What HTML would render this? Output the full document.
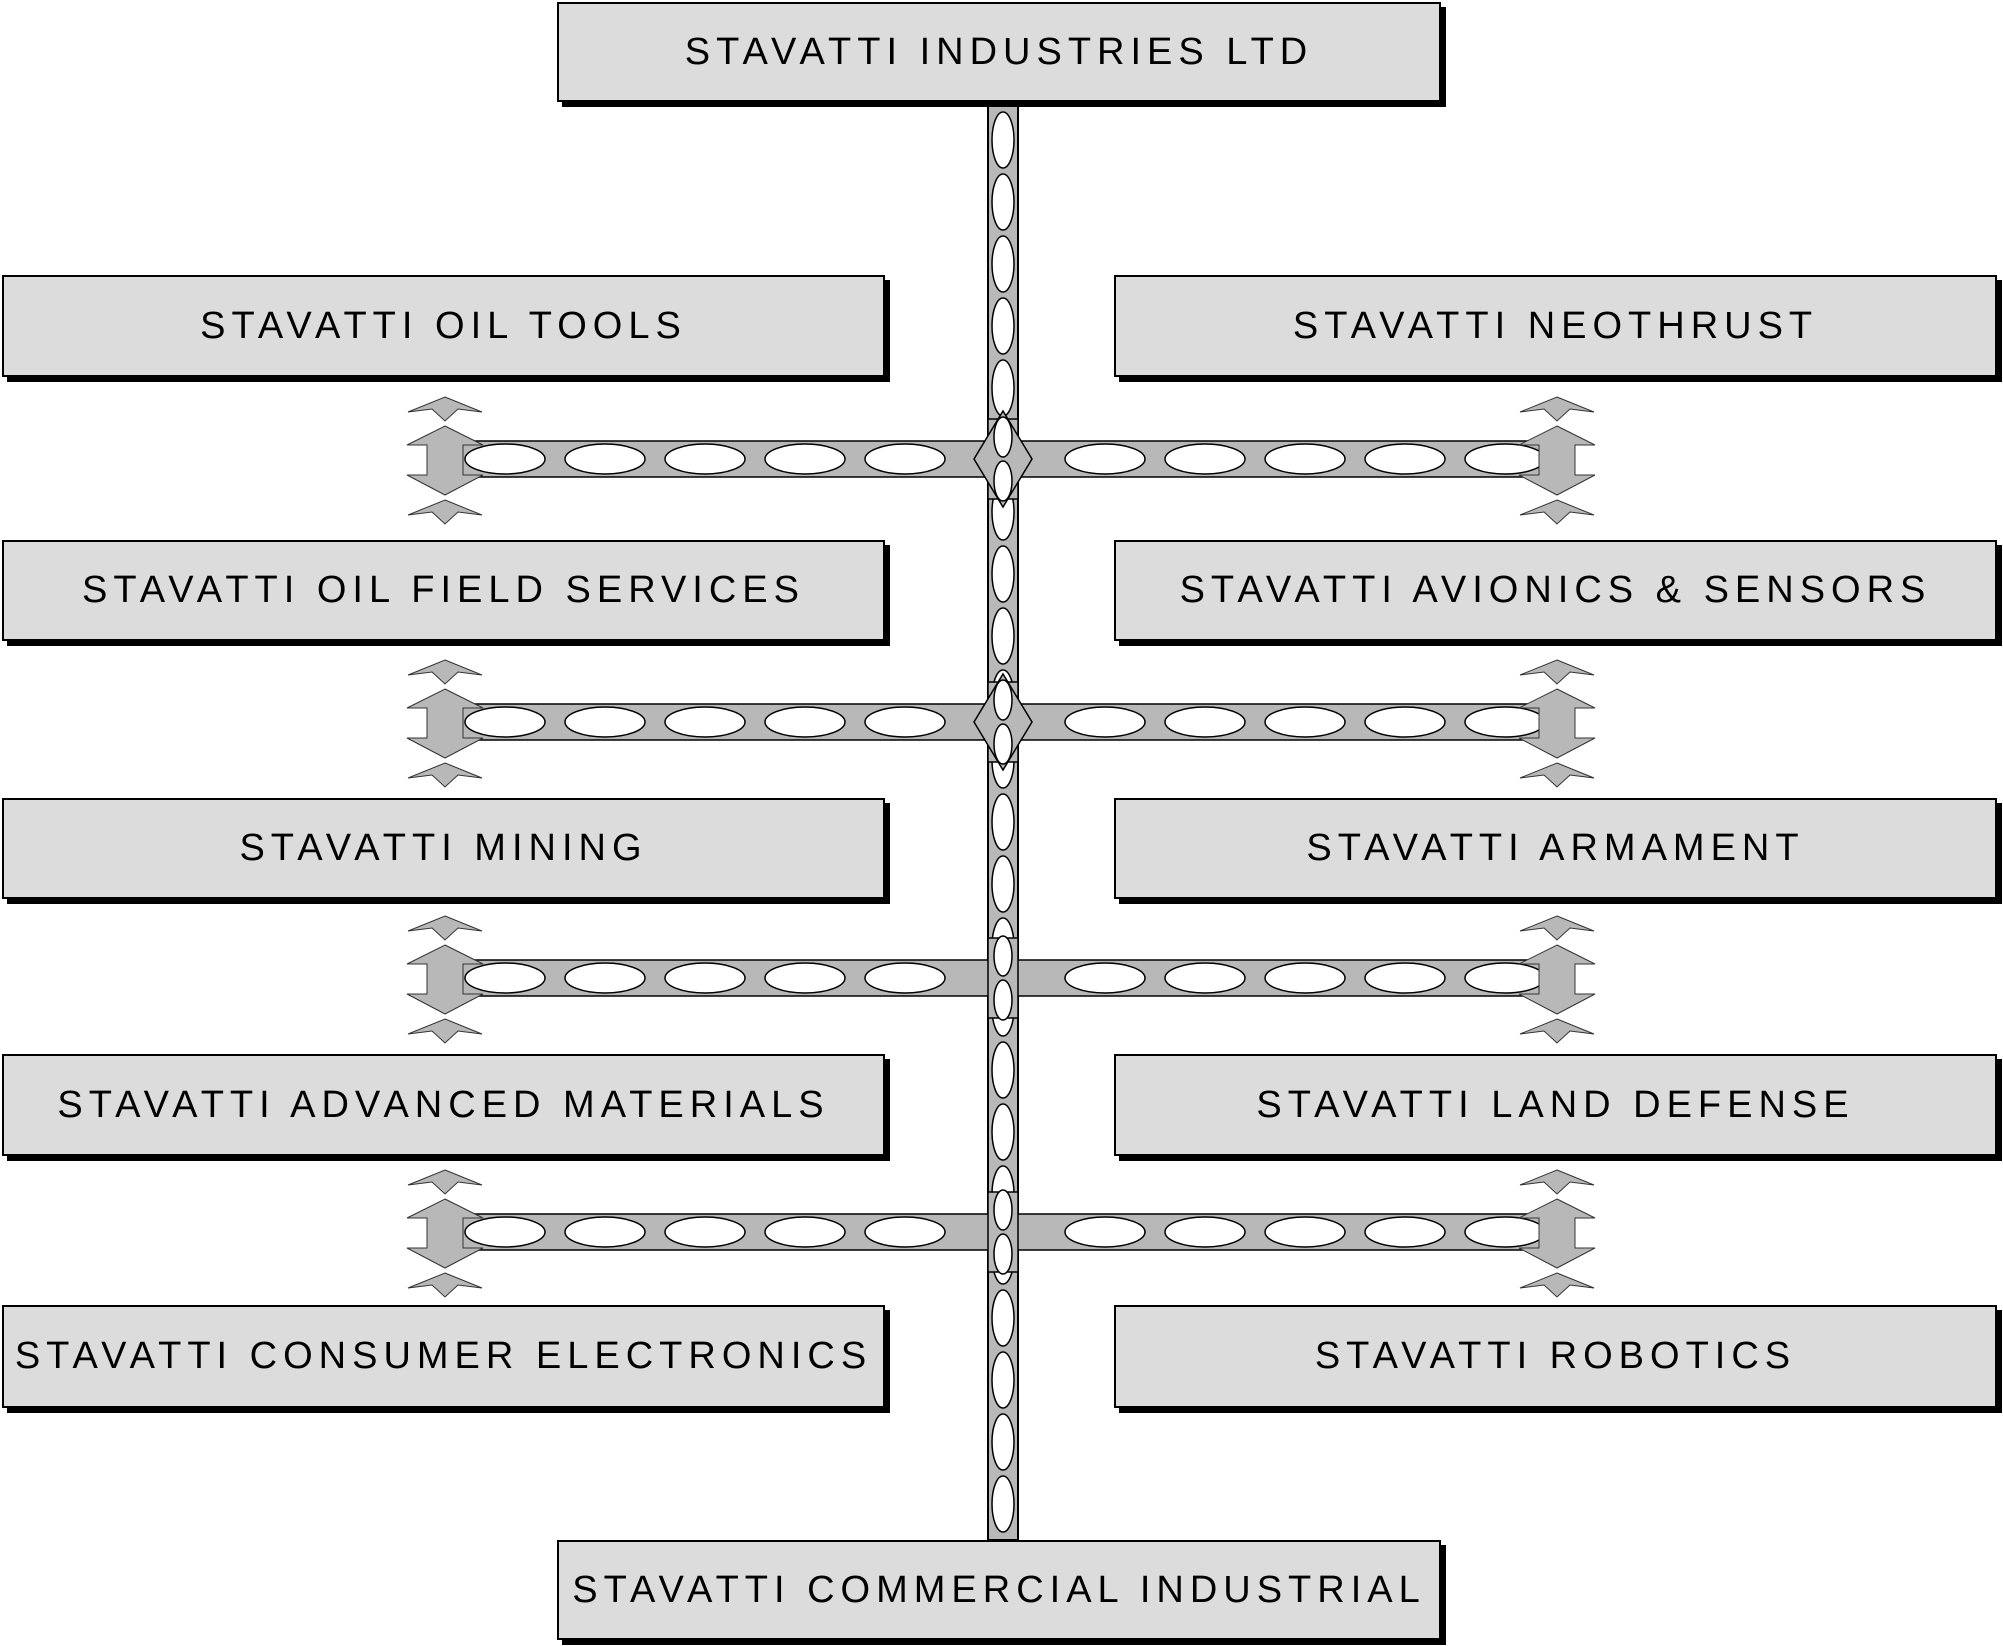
<!DOCTYPE html>
<html><head><meta charset="utf-8"><style>
html,body{margin:0;padding:0;background:#fff;}
body{width:2003px;height:1646px;position:relative;overflow:hidden;font-family:"Liberation Sans",sans-serif;}
.b{position:absolute;background:#dcdcdc;border:2px solid #000;box-shadow:5px 5px 0 #000;box-sizing:border-box;display:flex;align-items:center;justify-content:center;font-size:38px;letter-spacing:6px;color:#000;white-space:nowrap;}
svg{position:absolute;left:0;top:0;}
</style></head><body>
<svg width="2003" height="1646" viewBox="0 0 2003 1646" id="s2">
<rect x="988" y="104" width="30" height="1436" fill="#b8b8b8" stroke="#000" stroke-width="2"/>
</svg>
<div class="b" style="left:557px;top:2px;width:884px;height:100px;">STAVATTI INDUSTRIES LTD</div>
<div class="b" style="left:2px;top:275px;width:883px;height:102px;">STAVATTI OIL TOOLS</div>
<div class="b" style="left:2px;top:540px;width:883px;height:101px;">STAVATTI OIL FIELD SERVICES</div>
<div class="b" style="left:2px;top:798px;width:883px;height:101px;">STAVATTI MINING</div>
<div class="b" style="left:2px;top:1054px;width:883px;height:102px;">STAVATTI ADVANCED MATERIALS</div>
<div class="b" style="left:2px;top:1305px;width:883px;height:103px;">STAVATTI CONSUMER ELECTRONICS</div>
<div class="b" style="left:1114px;top:275px;width:883px;height:102px;">STAVATTI NEOTHRUST</div>
<div class="b" style="left:1114px;top:540px;width:883px;height:101px;">STAVATTI AVIONICS &amp; SENSORS</div>
<div class="b" style="left:1114px;top:798px;width:883px;height:101px;">STAVATTI ARMAMENT</div>
<div class="b" style="left:1114px;top:1054px;width:883px;height:102px;">STAVATTI LAND DEFENSE</div>
<div class="b" style="left:1114px;top:1305px;width:883px;height:103px;">STAVATTI ROBOTICS</div>
<div class="b" style="left:557px;top:1540px;width:884px;height:100px;">STAVATTI COMMERCIAL INDUSTRIAL</div>
<script>
(function(){
var ns="http://www.w3.org/2000/svg";
var s=document.getElementById("s2");
function el(t,a){var e=document.createElementNS(ns,t);for(var k in a)e.setAttribute(k,a[k]);s.appendChild(e);return e;}
for(var y=112;y<1530;y+=62){el("ellipse",{cx:1003,cy:y+28,rx:11,ry:28,fill:"#fff",stroke:"#000","stroke-width":1.5});}
var rows=[459,722,978,1232];
rows.forEach(function(cy,i){
  el("rect",{x:430,y:cy-18,width:1133,height:36,fill:"#b8b8b8",stroke:"#000","stroke-width":1.5});
  for(var x=465;x<1550;x+=100){ if(Math.abs(x+40-1003)<55)continue; el("ellipse",{cx:x+40,cy:cy,rx:40,ry:15,fill:"#fff",stroke:"#000","stroke-width":1.5});}
  [445,1557].forEach(function(cx){
    el("polygon",{points:[cx,cy-62,cx+37,cy-47,cx+13,cy-50,cx,cy-38,cx-13,cy-50,cx-37,cy-47].join(","),fill:"#b8b8b8",stroke:"#333"});
    el("polygon",{points:[cx,cy-33,cx+38,cy-14,cx+18,cy-14,cx+18,cy+16,cx+38,cy+16,cx,cy+36,cx-38,cy+16,cx-18,cy+16,cx-18,cy-14,cx-38,cy-14].join(","),fill:"#b8b8b8",stroke:"#333"});
    el("polygon",{points:[cx,cy+41,cx+37,cy+56,cx+13,cy+53,cx,cy+65,cx-13,cy+53,cx-37,cy+56].join(","),fill:"#b8b8b8",stroke:"#333"});
  });
  el("rect",{x:988,y:cy-40,width:30,height:80,fill:"#b8b8b8",stroke:"#000","stroke-width":1.5});
  if(i<2){el("polygon",{points:[1003,cy-48,1032,cy,1003,cy+48,974,cy].join(","),fill:"#b8b8b8",stroke:"#000","stroke-width":1.5});}
  el("ellipse",{cx:1003,cy:cy-22,rx:9,ry:20,fill:"#fff",stroke:"#000","stroke-width":1.5});
  el("ellipse",{cx:1003,cy:cy+22,rx:9,ry:20,fill:"#fff",stroke:"#000","stroke-width":1.5});
});
})();
</script>
</body></html>
